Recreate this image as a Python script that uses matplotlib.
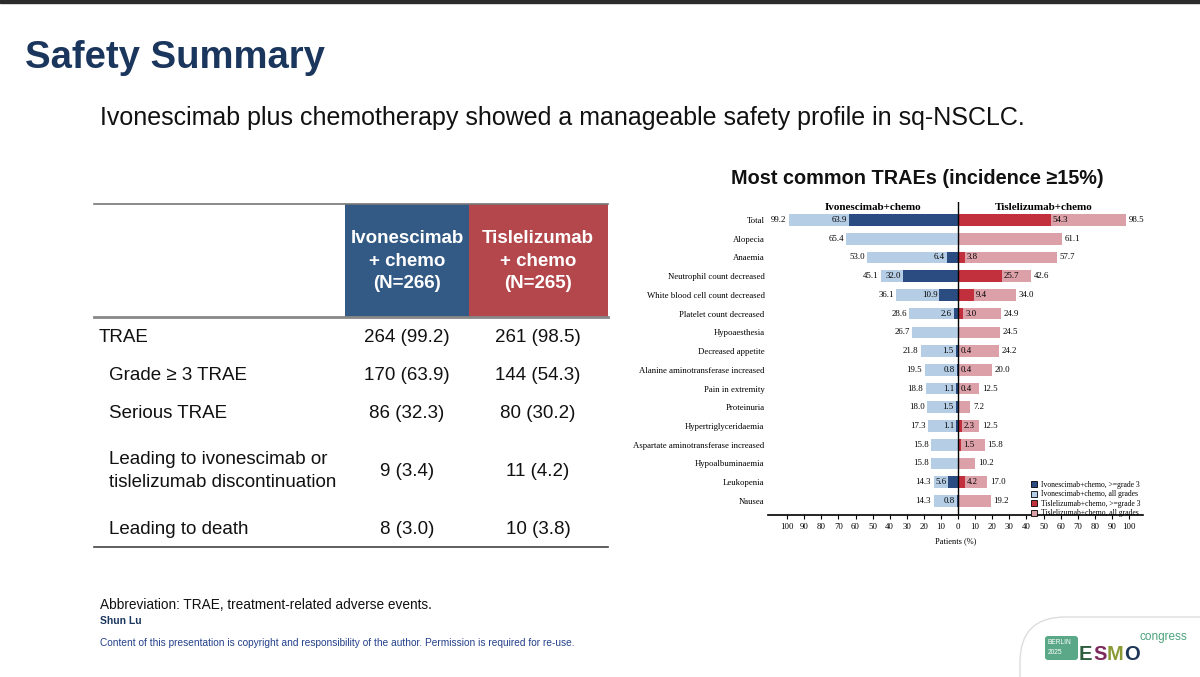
import matplotlib
matplotlib.use('Agg')
import matplotlib.pyplot as plt
from matplotlib.patches import Rectangle, FancyBboxPatch, Patch

# Dados do gráfico (TRAEs com incidência >= 15%)
categorias = ['Total', 'Alopecia', 'Anaemia', 'Neutrophil count decreased',
              'White blood cell count decreased', 'Platelet count decreased',
              'Hypoaesthesia', 'Decreased appetite', 'Alanine aminotransferase increased',
              'Pain in extremity', 'Proteinuria', 'Hypertriglyceridaemia',
              'Aspartate aminotransferase increased', 'Hypoalbuminaemia',
              'Leukopenia', 'Nausea']
ivo_todos = [99.2, 65.4, 53.0, 45.1, 36.1, 28.6, 26.7, 21.8, 19.5, 18.8, 18.0, 17.3, 15.8, 15.8, 14.3, 14.3]
ivo_g3 = [63.9, 0, 6.4, 32.0, 10.9, 2.6, 0, 1.5, 0.8, 1.1, 1.5, 1.1, 0, 0, 5.6, 0.8]
tis_todos = [98.5, 61.1, 57.7, 42.6, 34.0, 24.9, 24.5, 24.2, 20.0, 12.5, 7.2, 12.5, 15.8, 10.2, 17.0, 19.2]
tis_g3 = [54.3, 0, 3.8, 25.7, 9.4, 3.0, 0, 0.4, 0.4, 0.4, 0, 2.3, 1.5, 0, 4.2, 0]
ticks_x = list(range(-100, 101, 10))

# Dados da tabela
linhas_tabela = ['TRAE', 'Grade ≥ 3 TRAE', 'Serious TRAE',
                 'Leading to ivonescimab or\ntislelizumab discontinuation', 'Leading to death']
valores_ivo = ['264 (99.2)', '170 (63.9)', '86 (32.3)', '9 (3.4)', '8 (3.0)']
valores_tis = ['261 (98.5)', '144 (54.3)', '80 (30.2)', '11 (4.2)', '10 (3.8)']

# Cores
AZUL_ESC = '#2b4c80'
AZUL_CLA = '#b5cde5'
VERM_ESC = '#c2303e'
VERM_CLA = '#dba0a8'
NAVY = '#1b365d'

SERIF = ['Liberation Serif', 'DejaVu Serif']
SANS = ['Liberation Sans', 'DejaVu Sans']

W, H = 1200, 677
fig = plt.figure(figsize=(12, 6.77), dpi=100)

# Eixo de fundo em coordenadas de pixel (slide)
bg = fig.add_axes([0, 0, 1, 1])
bg.set_xlim(0, W)
bg.set_ylim(H, 0)
bg.axis('off')

# Faixa escura no topo
bg.add_patch(Rectangle((0, 0), W, 3, color='#2b2b2b'))

bg.text(25, 58, 'Safety Summary', fontsize=27.5, fontweight='bold', color=NAVY,
        family=SANS, va='center', ha='left')
bg.text(100, 118, 'Ivonescimab plus chemotherapy showed a manageable safety profile in sq-NSCLC.',
        fontsize=18, family=SANS, va='center', ha='left', color='#111111')
bg.text(917, 178, 'Most common TRAEs (incidence ≥15%)', fontsize=14.3, fontweight='bold',
        family=SANS, va='center', ha='center', color='#111111')

# Tabela
x0, x1 = 94, 608
bg.add_patch(Rectangle((345, 204), 124, 113, color='#335a84', lw=0))
bg.add_patch(Rectangle((469, 204), 139, 113, color='#b4474b', lw=0))
bg.plot([x0, x1], [204, 204], color='#777777', lw=1.2)
bg.plot([x0, x1], [317, 317], color='#888888', lw=2)
bg.plot([x0, x1], [547, 547], color='#444444', lw=1.2)
bg.text(407, 261, 'Ivonescimab\n+ chemo\n(N=266)', color='white', fontsize=13.5,
        fontweight='bold', family=SANS, ha='center', va='center', linespacing=1.45)
bg.text(538, 261, 'Tislelizumab\n+ chemo\n(N=265)', color='white', fontsize=13.5,
        fontweight='bold', family=SANS, ha='center', va='center', linespacing=1.45)

y_linhas = [337, 376, 413, 471, 529]
for i, (rotulo, vi, vt) in enumerate(zip(linhas_tabela, valores_ivo, valores_tis)):
    xr = 99 if i == 0 else 109
    bg.text(xr, y_linhas[i], rotulo, fontsize=13.5, family=SANS, ha='left', va='center',
            linespacing=1.4, color='#111111')
    bg.text(407, y_linhas[i], vi, fontsize=13.5, family=SANS, ha='center', va='center', color='#111111')
    bg.text(538, y_linhas[i], vt, fontsize=13.5, family=SANS, ha='center', va='center', color='#111111')

# Rodapé
bg.text(100, 605, 'Abbreviation: TRAE, treatment-related adverse events.', fontsize=9.8,
        family=SANS, va='center', ha='left', color='#111111')
bg.text(100, 621, 'Shun Lu', fontsize=7.5, fontweight='bold', family=SANS, va='center',
        ha='left', color=NAVY)
bg.text(100, 643, 'Content of this presentation is copyright and responsibility of the author. '
        'Permission is required for re-use.', fontsize=7.3, family=SANS, va='center',
        ha='left', color='#23408a')

# Logo ESMO
bg.add_patch(FancyBboxPatch((1020, 617), 300, 200, boxstyle='round,pad=0,rounding_size=45',
                            ec='#dddddd', fc='white', lw=1))
bg.add_patch(FancyBboxPatch((1045, 636), 33, 24, boxstyle='round,pad=0,rounding_size=3',
                            ec='none', fc='#5aa887'))
bg.text(1048, 643, 'BERLIN', fontsize=4.8, color='white', family=SANS, va='center', ha='left')
bg.text(1048, 653, '2025', fontsize=4.8, color='white', family=SANS, va='center', ha='left')
for letra, cor, xl in zip('ESMO', ['#2e5e3e', '#7d2a5c', '#8a9a35', '#1d3557'],
                          [1079, 1093, 1107, 1124]):
    bg.text(xl, 660, letra, fontsize=14.5, fontweight='bold', color=cor, family=SANS,
            va='baseline', ha='left')
bg.text(1140, 637, 'congress', fontsize=8.5, color='#4aa37a', family=SANS, va='center', ha='left')

# Gráfico de barras divergente
ax = fig.add_axes([768 / W, 1 - 515 / H, 375 / W, (515 - 202) / H])
y = list(range(len(categorias)))
alt = 0.62
ax.barh(y, [-v for v in ivo_todos], height=alt, color=AZUL_CLA)
ax.barh(y, [-v for v in ivo_g3], height=alt, color=AZUL_ESC)
ax.barh(y, tis_todos, height=alt, color=VERM_CLA)
ax.barh(y, tis_g3, height=alt, color=VERM_ESC)
ax.axvline(0, color='black', lw=1)

ax.set_xlim(-111.2, 108.2)
ax.set_ylim(15.75, -0.96)

fs = 6.3
for i in y:
    ax.text(-ivo_todos[i] - 1.5, i, f'{ivo_todos[i]:.1f}', ha='right', va='center', fontsize=fs, family=SERIF)
    ax.text(tis_todos[i] + 1.5, i, f'{tis_todos[i]:.1f}', ha='left', va='center', fontsize=fs, family=SERIF)
    if ivo_g3[i] > 0:
        ax.text(-ivo_g3[i] - 1.2, i, f'{ivo_g3[i]:.1f}', ha='right', va='center', fontsize=fs, family=SERIF)
    if tis_g3[i] > 0:
        ax.text(tis_g3[i] + 1.2, i, f'{tis_g3[i]:.1f}', ha='left', va='center', fontsize=fs, family=SERIF)

ax.text(-50, -0.69, 'Ivonescimab+chemo', ha='center', va='center', fontsize=8,
        fontweight='bold', family=SERIF)
ax.text(50, -0.69, 'Tislelizumab+chemo', ha='center', va='center', fontsize=8,
        fontweight='bold', family=SERIF)

for lado in ['top', 'right', 'left']:
    ax.spines[lado].set_visible(False)
ax.spines['bottom'].set_linewidth(1.2)
ax.set_xticks(ticks_x)
ax.set_xticklabels([str(abs(t)) for t in ticks_x], fontsize=6.3, family=SERIF)
ax.tick_params(axis='x', length=3, width=0.8, pad=3)
ax.set_yticks(y)
ax.set_yticklabels(categorias, fontsize=6.3, family=SERIF)
ax.tick_params(axis='y', length=0, pad=2.5)
ax.set_xlabel('Patients (%)', fontsize=6, family=SERIF, labelpad=4)
ax.patch.set_alpha(0)

handles = [Patch(facecolor=AZUL_ESC, edgecolor='black', lw=0.6, label='Ivonescimab+chemo, >=grade 3'),
           Patch(facecolor=AZUL_CLA, edgecolor='black', lw=0.6, label='Ivonescimab+chemo, all grades'),
           Patch(facecolor=VERM_ESC, edgecolor='black', lw=0.6, label='Tislelizumab+chemo, >=grade 3'),
           Patch(facecolor=VERM_CLA, edgecolor='black', lw=0.6, label='Tislelizumab+chemo, all grades')]
ax.legend(handles=handles, loc='upper left', bbox_to_anchor=(1027 / W, 1 - 477 / H),
          bbox_transform=fig.transFigure, frameon=False, prop={'family': SERIF, 'size': 5.5},
          handlelength=0.8, handleheight=0.8, handletextpad=0.5, labelspacing=0.2, borderpad=0)

plt.savefig('out.png', dpi=100)
plt.close()
